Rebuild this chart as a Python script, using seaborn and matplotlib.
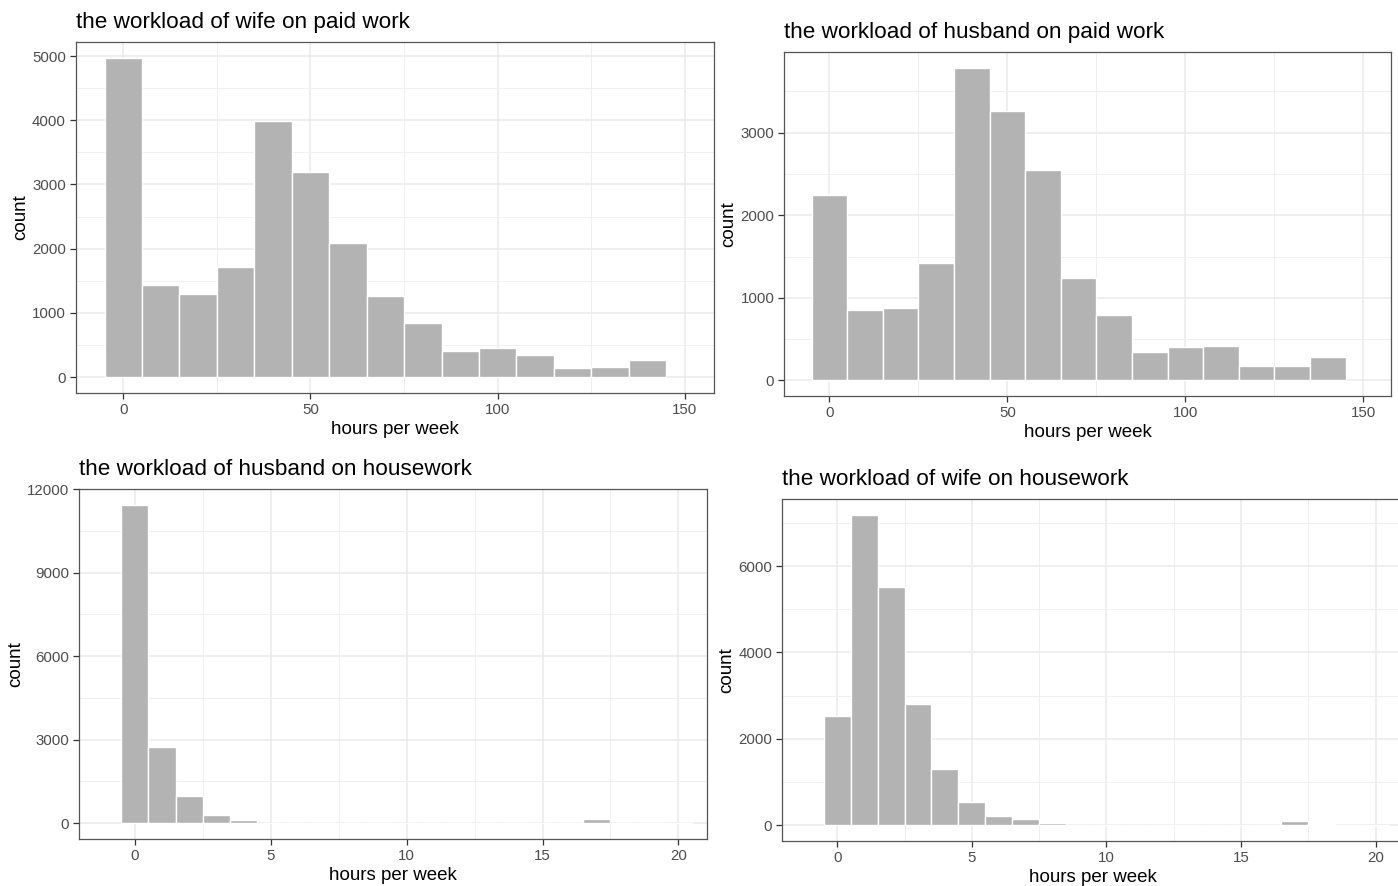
import matplotlib
matplotlib.use("Agg")
import matplotlib.pyplot as plt
from matplotlib.ticker import MultipleLocator
import seaborn as sns
import numpy as np
import pandas as pd

# bin centres
paid_hours = np.arange(0, 150, 10)
house_hours = np.arange(0, 21, 1)

# counts
wife_paid = [4970, 1435, 1290, 1720, 3995, 3187, 2088, 1259, 839, 399, 446, 347, 145, 161, 259]
husband_paid = [2240, 857, 882, 1427, 3789, 3259, 2552, 1245, 793, 340, 404, 417, 170, 174, 279]
husband_house = [11440, 2750, 980, 275, 108, 0, 0, 0, 0, 0, 0, 0, 0, 0, 0, 0, 0, 140, 0, 0, 5]
wife_house = [2525, 7190, 5514, 2819, 1313, 533, 208, 139, 46, 0, 0, 0, 0, 0, 0, 0, 0, 100, 40, 0, 5]

titles = ["the workload of wife on paid work", "the workload of husband on paid work",
          "the workload of husband on housework", "the workload of wife on housework"]
yticks = [np.arange(0, 5001, 1000), np.arange(0, 3001, 1000),
          np.arange(0, 12001, 3000), np.arange(0, 6001, 2000)]

sns.set_theme(style="white")
plt.rcParams['font.family'] = ['Liberation Sans', 'DejaVu Sans']

W, H = 1398, 886
fig = plt.figure(figsize=(W / 100, H / 100), dpi=100)

# panel boxes in pixels: left, top, right, bottom
boxes = [(75.5, 42, 714, 393), (784, 52, 1391, 396),
         (79, 489, 707, 839), (782, 499, 1404, 841)]

panels = [(paid_hours, wife_paid, 10), (paid_hours, husband_paid, 10),
          (house_hours, husband_house, 1), (house_hours, wife_house, 1)]

for i, ((x, counts, bw), box) in enumerate(zip(panels, boxes)):
    l, t, r, b = box
    ax = fig.add_axes([l / W, 1 - b / H, (r - l) / W, (b - t) / H])
    df = pd.DataFrame({"hours": x, "n": counts})
    sns.histplot(data=df, x="hours", weights="n", binwidth=bw,
                 binrange=(x[0] - bw / 2, x[-1] + bw / 2), ax=ax,
                 color="#B3B3B3", edgecolor="white", linewidth=1.0, alpha=1)
    top = max(counts)
    ax.set_ylim(-0.05 * top, 1.05 * top)
    if bw == 10:
        ax.set_xlim(-12.75, 157.75)
        ax.xaxis.set_major_locator(MultipleLocator(50))
        ax.xaxis.set_minor_locator(MultipleLocator(25))
    else:
        ax.set_xlim(-2.05, 21.05)
        ax.xaxis.set_major_locator(MultipleLocator(5))
        ax.xaxis.set_minor_locator(MultipleLocator(2.5))
    ax.set_yticks(yticks[i])
    step = yticks[i][1] - yticks[i][0]
    ax.yaxis.set_minor_locator(MultipleLocator(step / 2))
    ax.set_axisbelow(True)
    ax.grid(which="major", color="#EBEBEB", linewidth=1.1)
    ax.grid(which="minor", color="#F0F0F0", linewidth=0.7)
    for s in ax.spines.values():
        s.set_color("#555555")
        s.set_linewidth(0.9)
    ax.tick_params(which="major", direction="out", length=4, width=0.9, color="#333333",
                   labelsize=10.8, labelcolor="#4D4D4D", pad=3,
                   bottom=True, left=True)
    ax.tick_params(which="minor", length=0)
    ax.set_xlabel("hours per week", fontsize=13.5, color="black", labelpad=3)
    ax.set_ylabel("count", fontsize=13.5, color="black", labelpad=2)
    ax.set_title(titles[i], loc="left", fontsize=16.2, color="black", pad=10)

fig.savefig("out.png", dpi=100)
